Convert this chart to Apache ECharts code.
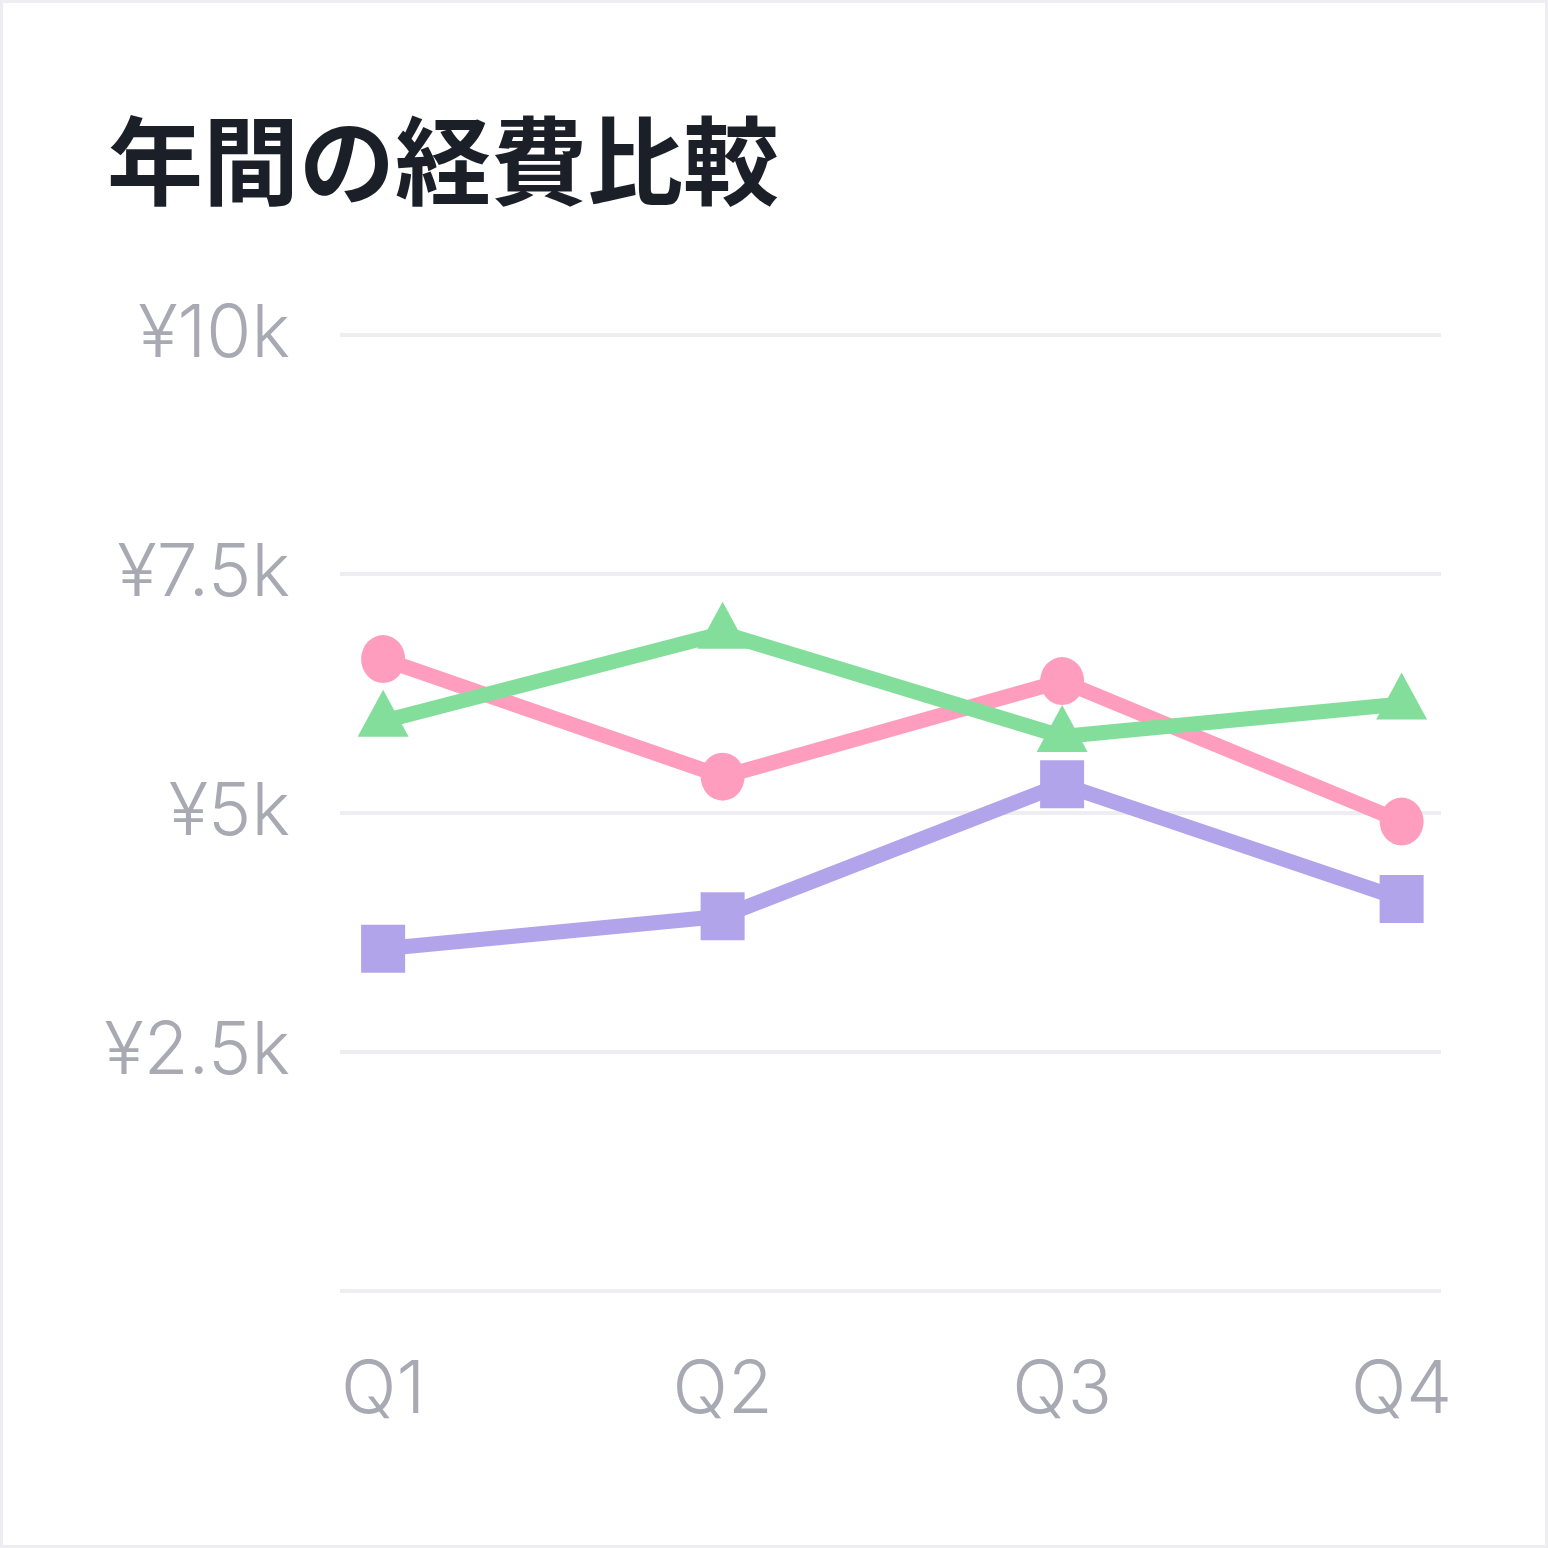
<!DOCTYPE html>
<html lang="ja">
<head>
<meta charset="utf-8">
<title>年間の経費比較</title>
<script src="https://cdn.jsdelivr.net/npm/echarts@6/dist/echarts.min.js"></script>
<style>
  html, body { margin: 0; padding: 0; background: #ffffff; }
  #chart { position: absolute; left: 0; top: 0; width: 1548px; height: 1548px; }
  #frame { position: absolute; left: 0; top: 0; width: 1548px; height: 1548px;
           box-sizing: border-box; border: 3px solid #eeeef2; pointer-events: none; }
</style>
</head>
<body>
<div id="chart"></div>
<div id="frame"></div>
<script>
// Quarterly expense figures (yen)
const quarters = ['Q1', 'Q2', 'Q3', 'Q4'];
const expensesA = [6610, 5380, 6380, 4910];   // pink, circles
const expensesB = [5960, 6880, 5800, 6140];   // green, triangles
const expensesC = [3580, 3920, 5300, 4100];   // purple, squares

const LABEL_FONT = 'Inter, "Liberation Sans", sans-serif';
const LABEL_COLOR = '#a9a9b3';

// pair each value with its quarter index so the x axis can carry padding
const toPoints = values => values.map((v, i) => [i, v]);

const chart = echarts.init(document.getElementById('chart'), null, { renderer: 'canvas' });

chart.setOption({
  animation: false,
  backgroundColor: '#ffffff',
  title: {
    text: '年間の経費比較',
    left: 102,
    top: 108,
    textStyle: {
      fontFamily: '"Noto Sans CJK JP", sans-serif',
      fontWeight: 'bold',
      fontSize: 96,
      color: '#1b1f27'
    }
  },
  grid: { left: 340, right: 107, top: 335, bottom: 257, containLabel: false },
  xAxis: {
    type: 'value',
    min: -0.127,
    max: 3.116,
    axisLine: { show: false },
    axisTick: { show: false },
    splitLine: { show: false },
    axisLabel: {
      customValues: [0, 1, 2, 3],
      formatter: v => quarters[Math.round(v)],
      fontFamily: LABEL_FONT,
      fontWeight: 300,
      fontSize: 73,
      color: LABEL_COLOR,
      margin: 64
    }
  },
  yAxis: {
    type: 'value',
    min: 0,
    max: 10000,
    interval: 2500,
    axisLine: { show: false },
    axisTick: { show: false },
    splitLine: { lineStyle: { color: '#eeeef2', width: 4 } },
    axisLabel: {
      formatter: v => (v === 0 ? '' : '¥' + v / 1000 + 'k'),
      fontFamily: LABEL_FONT,
      fontWeight: 300,
      fontSize: 73,
      color: LABEL_COLOR,
      margin: 50
    }
  },
  series: [
    {
      name: 'C',
      type: 'line',
      data: toPoints(expensesC),
      symbol: 'rect',
      symbolSize: [44, 48],
      lineStyle: { color: '#b1a4eb', width: 15 },
      itemStyle: { color: '#b1a4eb' }
    },
    {
      name: 'A',
      type: 'line',
      data: toPoints(expensesA),
      symbol: 'circle',
      symbolSize: [44, 48],
      lineStyle: { color: '#ff9dbe', width: 15 },
      itemStyle: { color: '#ff9dbe' }
    },
    {
      name: 'B',
      type: 'line',
      data: toPoints(expensesB),
      symbol: 'triangle',
      symbolSize: [51, 47],
      symbolOffset: [0, -8],
      lineStyle: { color: '#84de9b', width: 15 },
      itemStyle: { color: '#84de9b' }
    }
  ]
});
</script>
</body>
</html>
